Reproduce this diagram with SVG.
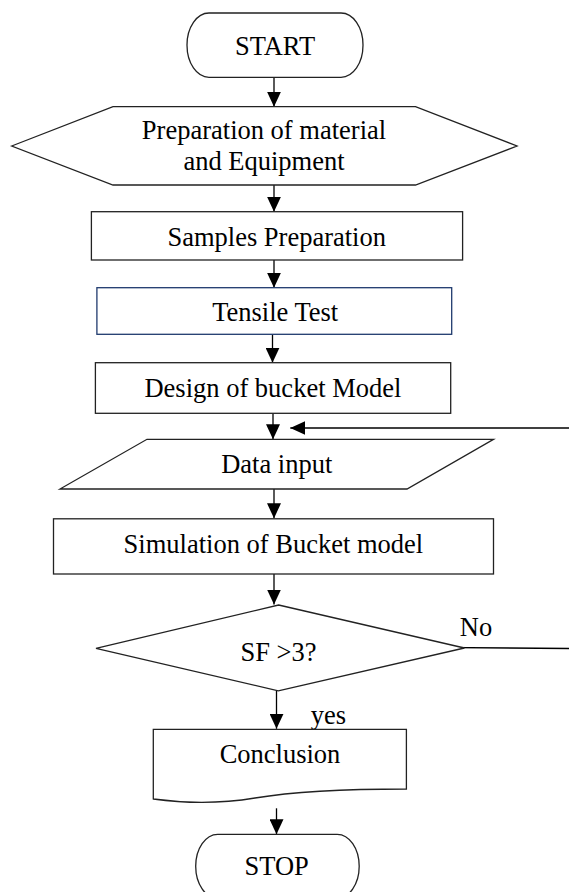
<svg xmlns="http://www.w3.org/2000/svg" width="569" height="892" viewBox="0 0 569 892">
<style>
  .shape { fill: #ffffff; stroke: #222222; stroke-width: 1.3; }
  .blue { stroke: #1f3a6e; }
  .lbl { font-family: "Liberation Serif", "Times New Roman", serif; font-size: 26.5px; fill: #000000; text-anchor: middle; }
  .line { stroke: #000000; stroke-width: 1.3; fill: none; }
  .arrow { marker-end: url(#ah); }
</style>
<defs>
  <marker id="ah" markerUnits="userSpaceOnUse" markerWidth="15" markerHeight="14" refX="15" refY="7" orient="auto">
    <path d="M0,0 L15,7 L0,14 Z" fill="#000000"/>
  </marker>
</defs>
<rect x="0" y="0" width="569" height="892" fill="#ffffff"/>
<g id="connectors">
  <line class="line arrow" x1="274" y1="77.3" x2="274" y2="106.7"/>
  <line class="line arrow" x1="274" y1="185" x2="274" y2="211.7"/>
  <line class="line arrow" x1="274" y1="260" x2="274" y2="287.7"/>
  <line class="line arrow" x1="272.5" y1="334.3" x2="272.5" y2="362.7"/>
  <line class="line arrow" x1="273" y1="413.3" x2="273" y2="439.3"/>
  <line class="line arrow" x1="274" y1="489" x2="274" y2="518.3"/>
  <line class="line arrow" x1="274" y1="574" x2="274" y2="604.5"/>
  <line class="line arrow" x1="276.5" y1="691" x2="276.5" y2="728.8"/>
  <line class="line arrow" x1="276.5" y1="808.3" x2="276.5" y2="834.3"/>
  <line class="line" x1="429" y1="647.3" x2="569" y2="648.5"/>
  <line class="line arrow" x1="569" y1="428" x2="290.3" y2="428"/>
</g>
<g id="start">
  <rect class="shape" x="187" y="13" width="176" height="64.3" rx="22" ry="32"/>
  <text class="lbl" x="275" y="55">START</text>
</g>
<g id="prep">
  <polygon class="shape" points="11.7,146 113,106.7 415.5,106.7 517,146 415.5,185 113,185"/>
  <text class="lbl" x="264" y="139.3">Preparation of material</text>
  <text class="lbl" x="264" y="170">and Equipment</text>
</g>
<g id="samples">
  <rect class="shape" x="91.4" y="211.7" width="371.2" height="48.3"/>
  <text class="lbl" x="276.7" y="246">Samples Preparation</text>
</g>
<g id="tensile">
  <rect class="shape blue" x="96.9" y="287.7" width="354.8" height="46.6"/>
  <text class="lbl" x="275.2" y="320.7">Tensile Test</text>
</g>
<g id="design">
  <rect class="shape" x="95.4" y="362.7" width="355.3" height="50.6"/>
  <text class="lbl" x="272.9" y="397.3">Design of bucket Model</text>
</g>
<g id="data">
  <polygon class="shape" points="147,439.3 493.5,439.3 407,489 60,489"/>
  <text class="lbl" x="276.7" y="473.3">Data input</text>
</g>
<g id="simulation">
  <rect class="shape" x="53.5" y="518.8" width="440" height="55.2"/>
  <text class="lbl" x="273.4" y="553.3">Simulation of Bucket model</text>
</g>
<g id="decision">
  <polygon class="shape" points="278.6,605 464.4,648 278.3,690.8 96,648.3"/>
  <text class="lbl" x="278.5" y="661">SF &gt;3?</text>
  <text class="lbl" x="476" y="636">No</text>
  <text class="lbl" x="328.5" y="724">yes</text>
</g>
<g id="conclusion">
  <path class="shape" d="M153.3,729.3 H406.4 V789 C340,789 285,793 255,798 C225,803 190,804 153.3,799 Z"/>
  <text class="lbl" x="280" y="763.3">Conclusion</text>
</g>
<g id="stop">
  <rect class="shape" x="195.7" y="834.3" width="163.5" height="64" rx="22" ry="32"/>
  <text class="lbl" x="276.7" y="875">STOP</text>
</g>
</svg>
